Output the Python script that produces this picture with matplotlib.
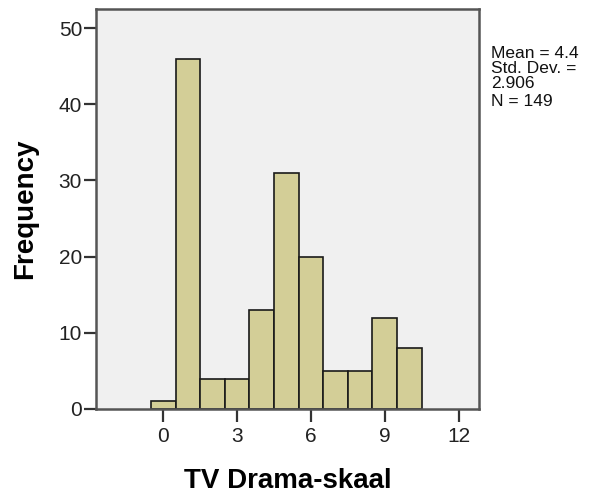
import numpy as np
import matplotlib
matplotlib.use("Agg")
import matplotlib.pyplot as plt

plt.rcParams['font.family'] = ['Liberation Sans', 'DejaVu Sans']

# Histogram counts (bins of width 1, centred on 0..10)
bin_centers = [0, 1, 2, 3, 4, 5, 6, 7, 8, 9, 10]
counts = [1, 46, 4, 4, 13, 31, 20, 5, 5, 12, 8]
x_ticks = [0, 3, 6, 9, 12]
y_ticks = [0, 10, 20, 30, 40, 50]
stats_lines = ["Mean = 4.4", "Std. Dev. =", "2.906", "N = 149"]

fig = plt.figure(figsize=(5.94, 5.0), dpi=100)
ax = fig.add_axes([96 / 594, 1 - 409 / 500, 383 / 594, 400 / 500])
ax.set_facecolor('#f0f0f0')

ax.bar(bin_centers, counts, width=1.0, color='#d3ce97', edgecolor='#1a1a1a',
       linewidth=1.2, zorder=2)

ax.set_xlim(-2.74, 12.83)
ax.set_ylim(0, 52.5)
ax.set_xticks(x_ticks)
ax.set_yticks(y_ticks)
ax.tick_params(axis='both', labelsize=15, length=9, width=1.6,
               color='#333333', labelcolor='#222222')
ax.tick_params(axis='x', pad=4)
ax.tick_params(axis='y', pad=1)

for s in ax.spines.values():
    s.set_color('#555555')
    s.set_linewidth(1.8)

ax.set_xlabel('TV Drama-skaal', fontsize=20, fontweight='bold', labelpad=16)
ax.set_ylabel('Frequency', fontsize=20, fontweight='bold', labelpad=15)

# stats box text, one line at a time (baselines in pixels from the top)
baselines = [58, 73, 88, 106]
for line, yb in zip(stats_lines, baselines):
    fig.text(491 / 594, 1 - yb / 500, line, fontsize=12.5, va='baseline',
             ha='left', color='#111111')

fig.savefig('out.png', dpi=100, facecolor='white')
